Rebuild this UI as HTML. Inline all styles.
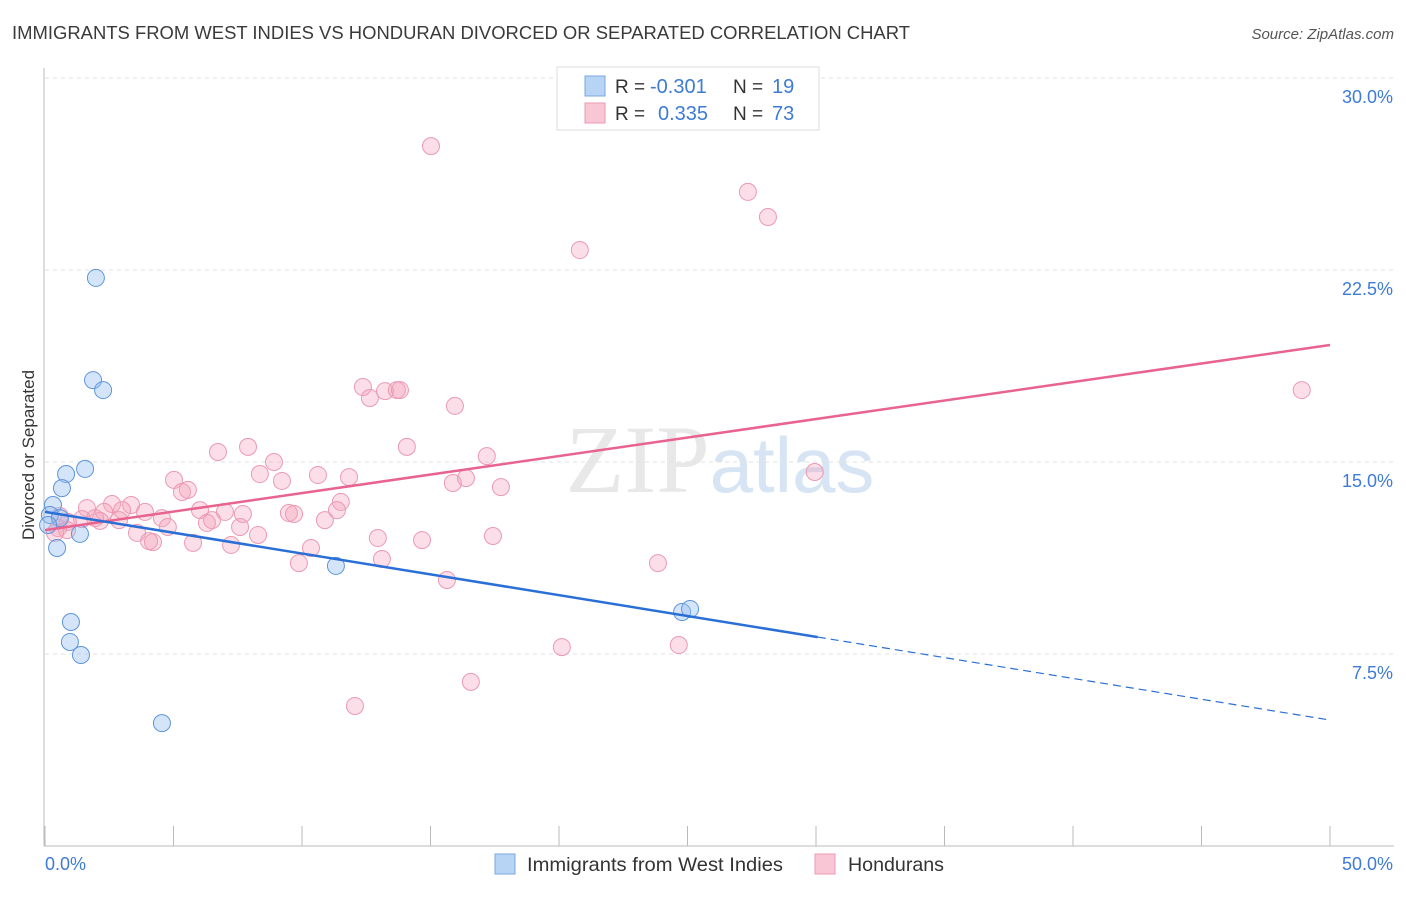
<!DOCTYPE html>
<html><head><meta charset="utf-8"><style>
body{margin:0;background:#fff;font-family:"Liberation Sans",sans-serif;}
</style></head><body>
<svg width="1406" height="892" xmlns="http://www.w3.org/2000/svg" style="font-family:'Liberation Sans',sans-serif">
<text x="12" y="39" font-size="18" fill="#3a3a3a" textLength="898" lengthAdjust="spacingAndGlyphs">IMMIGRANTS FROM WEST INDIES VS HONDURAN DIVORCED OR SEPARATED CORRELATION CHART</text>
<text x="1394" y="39" font-size="15" fill="#555" font-style="italic" text-anchor="end">Source: ZipAtlas.com</text>
<text x="720" y="492" font-size="96" fill="#e8e8e8" text-anchor="middle" font-family="Liberation Serif,serif">ZIP<tspan fill="#d6e4f4" font-family="Liberation Sans,sans-serif" font-size="78">atlas</tspan></text>
<g id="grid"></g><g id="axes"></g><g id="pts"></g><g id="lines"></g>
<text transform="translate(34,455) rotate(-90)" font-size="17" fill="#333" text-anchor="middle">Divorced or Separated</text>
<g>
<rect x="557" y="67" width="262" height="63" fill="#fff" stroke="#ddd"/>
<rect x="585" y="76" width="20" height="20" fill="#b8d4f5" stroke="#7aa7e0"/>
<rect x="585" y="103" width="20" height="20" fill="#f8c6d5" stroke="#eb9ab2"/>
<text x="615" y="93" font-size="19" fill="#333">R =</text>
<text x="650" y="93" font-size="20" fill="#3d7bd6">-0.301</text>
<text x="733" y="93" font-size="19" fill="#333">N =</text>
<text x="772" y="93" font-size="20" fill="#3d7bd6">19</text>
<text x="615" y="120" font-size="19" fill="#333">R =</text>
<text x="658" y="120" font-size="20" fill="#3d7bd6">0.335</text>
<text x="733" y="120" font-size="19" fill="#333">N =</text>
<text x="772" y="120" font-size="20" fill="#3d7bd6">73</text>
</g>
<g>
<rect x="495" y="854" width="20" height="20" fill="#b8d4f5" stroke="#7aa7e0"/>
<text x="527" y="871" font-size="19.5" fill="#333" textLength="256" lengthAdjust="spacingAndGlyphs">Immigrants from West Indies</text>
<rect x="815" y="854" width="20" height="20" fill="#f8c6d5" stroke="#eb9ab2"/>
<text x="848" y="871" font-size="19.5" fill="#333" textLength="96" lengthAdjust="spacingAndGlyphs">Hondurans</text>
</g>
</svg>
<script>
const blueX=[1.98,1.87,2.26,1.56,0.82,0.66,0.31,0.19,0.58,0.12,1.36,0.47,1.01,0.97,1.40,4.55,11.32,24.79,25.10];
const blueY=[22.19,18.20,17.81,14.73,14.53,13.98,13.32,12.93,12.81,12.54,12.19,11.64,8.75,7.97,7.46,4.80,10.94,9.14,9.26];
const pinkX=[15.02,27.35,28.13,20.81,48.90,29.95,12.37,12.64,13.23,13.69,13.81,15.95,14.08,7.90,6.73,8.91,10.62,11.83,8.36,9.22,5.02,5.56,5.33,16.38,15.87,17.19,17.74,11.51,11.36,2.61,3.35,3.89,1.63,2.30,3.00,6.03,7.00,7.70,9.49,9.69,4.55,6.50,6.30,2.14,1.44,1.95,0.89,0.51,0.86,0.39,3.58,4.78,7.59,10.89,8.29,4.20,4.05,5.76,7.24,12.95,14.67,17.43,10.35,9.88,13.11,15.64,23.85,20.11,24.66,16.57,12.06,2.88,0.58];
const pinkY=[27.34,25.55,24.57,23.28,17.81,14.61,17.93,17.50,17.77,17.81,17.81,17.19,15.59,15.59,15.39,15.00,14.49,14.41,14.53,14.26,14.30,13.91,13.83,14.37,14.18,15.23,14.02,13.44,13.12,13.36,13.32,13.05,13.20,13.05,13.12,13.12,13.05,12.97,13.01,12.97,12.81,12.73,12.62,12.70,12.77,12.81,12.66,12.42,12.34,12.23,12.23,12.46,12.46,12.73,12.15,11.87,11.91,11.84,11.76,12.03,11.95,12.11,11.64,11.05,11.21,10.39,11.05,7.77,7.85,6.41,5.47,12.73,12.89];
const yTicks=[7.5,15,22.5,30];
const yTickLabels=["7.5%","15.0%","22.5%","30.0%"];
const xTicks=[0,5,10,15,20,25,30,35,40,45,50];
const pinkTrend=[12.34,19.57];
const blueTrend=[13.05,4.92];
const blueSolidEnd=30.07;
const NS="http://www.w3.org/2000/svg";
const sx=v=>45+v/50*1285, sy=v=>846-v/30*768;
function mk(t,a,p){const e=document.createElementNS(NS,t);for(const k in a)e.setAttribute(k,a[k]);p.appendChild(e);return e;}
const grid=document.getElementById('grid'),axes=document.getElementById('axes'),pts=document.getElementById('pts'),lines=document.getElementById('lines');
yTicks.forEach((v,i)=>{
 const l=mk('line',{x1:45,x2:1394,y1:sy(v),y2:sy(v),stroke:'#e2e2e2','stroke-dasharray':'4,4'},grid);
 
 
 const t=mk('text',{x:1393,y:sy(v)+25,'font-size':18,fill:'#3d7bd6','text-anchor':'end'},axes);
 t.textContent=yTickLabels[i];
 
 
});
const ax=mk('line',{x1:44,x2:44,y1:68,y2:846,stroke:'#bbb'},axes);


const bx=mk('line',{x1:44,x2:1394,y1:846,y2:846,stroke:'#bbb'},axes);


xTicks.forEach(v=>{
 const l=mk('line',{x1:sx(v),x2:sx(v),y1:826,y2:846,stroke:'#bbb'},axes);
 
 
});
const x0=mk('text',{x:45,y:870,'font-size':18,fill:'#3d7bd6'},axes);x0.textContent='0.0%';


const x1=mk('text',{x:1393,y:870,'font-size':18,fill:'#3d7bd6','text-anchor':'end'},axes);x1.textContent='50.0%';


pinkX.forEach((v,i)=>{
 const c=mk('circle',{cx:sx(v),cy:sy(pinkY[i]),r:8.5,fill:'rgba(244,160,186,0.35)',stroke:'#eb9ab2','stroke-width':1},pts);
 
 
});
blueX.forEach((v,i)=>{
 const c=mk('circle',{cx:sx(v),cy:sy(blueY[i]),r:8.5,fill:'rgba(150,190,240,0.4)',stroke:'#5e95dc','stroke-width':1},pts);
 
 
});
const pt=mk('line',{x1:sx(0),y1:sy(pinkTrend[0]),x2:sx(50),y2:sy(pinkTrend[1]),stroke:'#e8638e','stroke-width':2.5},lines);


const by=v=>blueTrend[0]+(blueTrend[1]-blueTrend[0])*v/50;
const bt=mk('line',{x1:sx(0),y1:sy(by(0)),x2:sx(blueSolidEnd),y2:sy(by(blueSolidEnd)),stroke:'#2a6fd6','stroke-width':2.5},lines);


const bd=mk('line',{x1:sx(blueSolidEnd),y1:sy(by(blueSolidEnd)),x2:sx(50),y2:sy(by(50)),stroke:'#2a6fd6','stroke-width':1.2,'stroke-dasharray':'8,5'},lines);


</script>
</body></html>
